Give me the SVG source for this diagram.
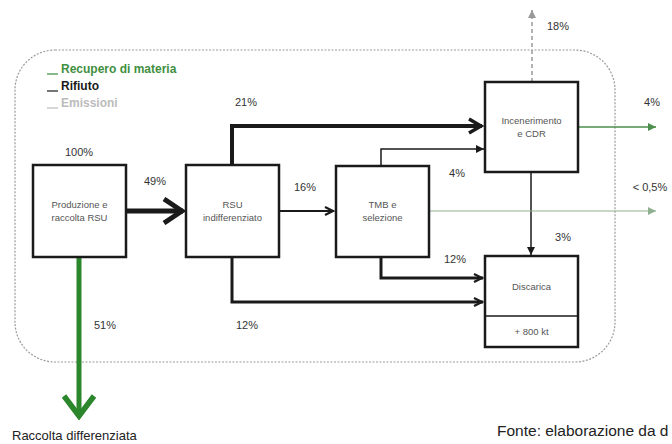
<svg xmlns="http://www.w3.org/2000/svg" width="672" height="444" viewBox="0 0 672 444">
<style>
text{font-family:"Liberation Sans",Arial,sans-serif;}
.box{fill:#fff;stroke:#1a1a1a;stroke-width:2.5;}
.bt{font-size:9.5px;fill:#555;text-anchor:middle;}
.pct{font-size:11px;fill:#333;text-anchor:middle;}
.lg{font-size:12px;font-weight:bold;}
.k{fill:none;stroke:#1a1a1a;}
</style>
<defs>
<marker id="hBig" markerUnits="userSpaceOnUse" viewBox="0 0 26 28" markerWidth="26" markerHeight="28" refX="23" refY="14" orient="auto"><path d="M4,2 L22,14 L4,26" fill="none" stroke="#1a1a1a" stroke-width="5"/></marker>
<marker id="hMed" markerUnits="userSpaceOnUse" viewBox="0 0 18 18" markerWidth="18" markerHeight="18" refX="16" refY="9" orient="auto"><path d="M3,2 L15,9 L3,16" fill="none" stroke="#1a1a1a" stroke-width="3.5"/></marker>
<marker id="hSm" markerUnits="userSpaceOnUse" viewBox="0 0 12 12" markerWidth="12" markerHeight="12" refX="11" refY="6" orient="auto"><path d="M2,2 L10,6 L2,10" fill="none" stroke="#1a1a1a" stroke-width="2.2"/></marker>
<marker id="hTiny" markerUnits="userSpaceOnUse" viewBox="0 0 10 10" markerWidth="10" markerHeight="10" refX="9" refY="5" orient="auto"><path d="M1,1 L9,5 L1,9 Z" fill="#1a1a1a"/></marker>
<marker id="hGreenBig" markerUnits="userSpaceOnUse" viewBox="0 0 28 36" markerWidth="28" markerHeight="36" refX="25" refY="18" orient="auto"><path d="M4,3 L24,18 L4,33" fill="none" stroke="#2c862c" stroke-width="5.5"/></marker>
<marker id="hGreen" markerUnits="userSpaceOnUse" viewBox="0 0 10 10" markerWidth="10" markerHeight="10" refX="9" refY="5" orient="auto"><path d="M1,1 L9,5 L1,9 Z" fill="#4d8f4d"/></marker>
<marker id="hGreenLight" markerUnits="userSpaceOnUse" viewBox="0 0 10 10" markerWidth="10" markerHeight="10" refX="9" refY="5" orient="auto"><path d="M1,1 L9,5 L1,9 Z" fill="#8fb08f"/></marker>
<marker id="hGray" markerUnits="userSpaceOnUse" viewBox="0 0 10 10" markerWidth="10" markerHeight="10" refX="9" refY="5" orient="auto"><path d="M1,1 L9,5 L1,9 Z" fill="#999"/></marker>
</defs>
<rect width="672" height="444" fill="#fff"/>

<g id="boundary">
<rect x="15" y="50" width="600" height="312" rx="40" ry="40" fill="none" stroke="#9a9a9a" stroke-width="1.2" stroke-dasharray="2 1.5"/>
</g>

<g id="legend">
<line x1="47" y1="74" x2="58" y2="74" stroke="#3a8a3a" stroke-width="1.2"/>
<text class="lg" x="61" y="73" fill="#3f8f3f">Recupero di materia</text>
<line x1="47" y1="91" x2="58" y2="91" stroke="#1a1a1a" stroke-width="1.2"/>
<text class="lg" x="61" y="90" fill="#1a1a1a">Rifiuto</text>
<line x1="47" y1="108" x2="58" y2="108" stroke="#bbb" stroke-width="1.2"/>
<text class="lg" x="61" y="107" fill="#bbb" font-weight="normal">Emissioni</text>
</g>

<g id="connectors">
<line x1="126" y1="211" x2="183" y2="211" class="k" stroke-width="5" marker-end="url(#hBig)"/>
<polyline points="232,165 232,126 482,126" class="k" stroke-width="4" marker-end="url(#hMed)"/>
<polyline points="232,257 232,302 483,302" class="k" stroke-width="3" marker-end="url(#hSm)"/>
<line x1="280" y1="211" x2="334" y2="211" class="k" stroke-width="2.2" marker-end="url(#hSm)"/>
<polyline points="381,166 381,149 484,149" class="k" stroke-width="1.5" marker-end="url(#hTiny)"/>
<polyline points="381,257 381,278 483,278" class="k" stroke-width="3" marker-end="url(#hSm)"/>
<line x1="531" y1="172" x2="531" y2="255" class="k" stroke-width="1.5" marker-end="url(#hTiny)"/>
<line x1="578" y1="127" x2="656" y2="127" stroke="#4d8f4d" stroke-width="1.5" marker-end="url(#hGreen)"/>
<line x1="430" y1="211" x2="656" y2="211" stroke="#8fb08f" stroke-width="1" marker-end="url(#hGreenLight)"/>
<line x1="79" y1="257" x2="79" y2="417" stroke="#2c862c" stroke-width="5" marker-end="url(#hGreenBig)"/>
<line x1="532" y1="82" x2="532" y2="10" stroke="#999" stroke-width="1.5" stroke-dasharray="4 3" marker-end="url(#hGray)"/>
</g>

<g id="produzione">
<rect class="box" x="33" y="165" width="93" height="92"/>
<text class="bt" x="79.5" y="208">Produzione e</text>
<text class="bt" x="79.5" y="221">raccolta RSU</text>
</g>
<g id="rsu">
<rect class="box" x="186" y="165" width="93" height="92"/>
<text class="bt" x="232.5" y="208">RSU</text>
<text class="bt" x="232.5" y="221">indifferenziato</text>
</g>
<g id="tmb">
<rect class="box" x="336" y="166" width="93" height="91"/>
<text class="bt" x="382.5" y="208">TMB e</text>
<text class="bt" x="382.5" y="221">selezione</text>
</g>
<g id="incenerimento">
<rect class="box" x="485" y="82" width="93" height="90"/>
<text class="bt" x="531.5" y="124">Incenerimento</text>
<text class="bt" x="531.5" y="137">e CDR</text>
</g>
<g id="discarica">
<rect class="box" x="485" y="256" width="93" height="91"/>
<line x1="485" y1="316" x2="578" y2="316" stroke="#1a1a1a" stroke-width="1.5"/>
<text class="bt" x="531.5" y="290">Discarica</text>
<text class="bt" x="531.5" y="335">+ 800 kt</text>
</g>

<g id="labels">
<text class="pct" x="79" y="156">100%</text>
<text class="pct" x="155" y="185">49%</text>
<text class="pct" x="305" y="191">16%</text>
<text class="pct" x="246" y="106">21%</text>
<text class="pct" x="652" y="106">4%</text>
<text class="pct" x="457" y="177">4%</text>
<text class="pct" x="650" y="191">&lt; 0,5%</text>
<text class="pct" x="563" y="241">3%</text>
<text class="pct" x="455" y="263">12%</text>
<text class="pct" x="105" y="329">51%</text>
<text class="pct" x="247" y="329">12%</text>
<text class="pct" x="558" y="30">18%</text>
<text x="12" y="440" font-size="13" fill="#222">Raccolta differenziata</text>
<text x="497" y="436" font-size="15.5" fill="#222">Fonte: elaborazione da d</text>
</g>
</svg>
